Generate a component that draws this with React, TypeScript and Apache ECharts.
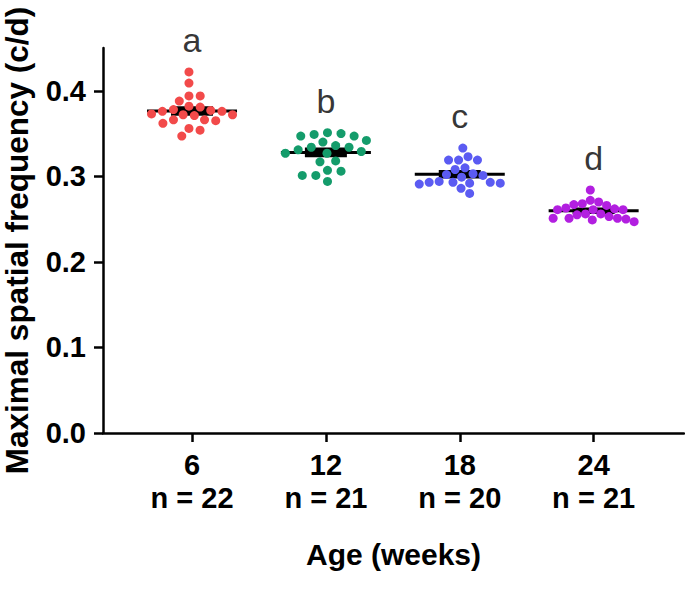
import React, { useEffect, useRef } from "react";
import * as echarts from "echarts";

const AGES = ["6", "12", "18", "24"];
const LETTERS = ["a", "b", "c", "d"];
const COLORS = ["#F24A4A", "#149C6B", "#5B5BF2", "#B21FE0"];
const Y_TICKS = [0, 0.1, 0.2, 0.3, 0.4];

const W6 = [0.422, 0.409, 0.394, 0.394, 0.388, 0.382, 0.376, 0.371, 0.376, 0.372, 0.378,
  0.381, 0.377, 0.373, 0.365, 0.366, 0.372, 0.366, 0.356, 0.362, 0.354, 0.347];
const W12 = [0.349, 0.347, 0.351, 0.35, 0.347, 0.334, 0.336, 0.34, 0.342, 0.334, 0.329,
  0.327, 0.331, 0.327, 0.317, 0.318, 0.306, 0.307, 0.301, 0.301, 0.294];
const W18 = [0.333, 0.319, 0.323, 0.319, 0.319, 0.31, 0.308, 0.301, 0.299, 0.302, 0.303,
  0.293, 0.294, 0.291, 0.293, 0.292, 0.292, 0.293, 0.286, 0.28];
const W24 = [0.284, 0.272, 0.266, 0.267, 0.268, 0.27, 0.261, 0.262, 0.263, 0.261, 0.261,
  0.256, 0.255, 0.256, 0.251, 0.253, 0.251, 0.251, 0.25, 0.247, 0.249];

const GROUPS = [W6, W12, W18, W24];
const FONT = "'Liberation Sans', Arial, Helvetica, sans-serif";

function swarm(ys: number[], D: number): number[] {
  const idx = ys.map((_, i) => i).sort((a, b) => ys[a] - ys[b]);
  const xs = new Array(ys.length).fill(0);
  const placed: number[] = [];
  let flip = 1;
  for (const i of idx) {
    const blocks: number[][] = [];
    for (const j of placed) {
      const dy = ys[i] - ys[j];
      if (Math.abs(dy) < D) {
        const dx = Math.sqrt(D * D - dy * dy);
        blocks.push([xs[j] - dx, xs[j] + dx]);
      }
    }
    const cands = [0];
    blocks.forEach((b) => cands.push(b[0], b[1]));
    const ok = cands.filter((c) => blocks.every((b) => c <= b[0] + 1e-6 || c >= b[1] - 1e-6));
    ok.sort((a, b) => Math.abs(a) - Math.abs(b) || flip * (b - a));
    xs[i] = ok[0];
    if (ok.length > 1 && Math.abs(Math.abs(ok[0]) - Math.abs(ok[1])) < 1e-6) flip = -flip;
    placed.push(i);
  }
  // spread every group to the same half-width, as the plotting program does
  const half = 40.5;
  const lo = Math.min(...xs);
  const hi = Math.max(...xs);
  const mid = (lo + hi) / 2;
  const span = (hi - lo) / 2 || 1;
  return xs.map((x) => ((x - mid) / span) * half);
}

function stats(vals: number[]) {
  const n = vals.length;
  const m = vals.reduce((a, b) => a + b, 0) / n;
  const sd = Math.sqrt(vals.reduce((a, b) => a + (b - m) * (b - m), 0) / (n - 1));
  return [m, sd / Math.sqrt(n)];
}

export default function App() {
  const ref = useRef<HTMLDivElement>(null);
  useEffect(() => {
    const chart = echarts.init(ref.current!, null, { renderer: "svg" });
    const meanData = GROUPS.map((g, i) => {
      const [m, s] = stats(g);
      return [i + 1, m, s];
    });
    const letterData = GROUPS.map((g, i) => [i + 1, Math.max(...g)]);
    const buildOption = (scatterData: number[][][]) => ({
      animation: false,
      grid: {
        left: 103,
        right: 1,
        top: 48,
        bottom: 158,
        containLabel: false,
        outerBoundsMode: "none",
      },
      xAxis: {
        type: "value",
        min: 0.335,
        max: 4.675,
        splitLine: { show: false },
        axisLine: { lineStyle: { color: "#000", width: 2.5 } },
        axisTick: { show: true, length: 9, customValues: [1, 2, 3, 4], lineStyle: { color: "#000", width: 2.5 } },
        axisLabel: {
          customValues: [1, 2, 3, 4],
          margin: 15,
          color: "#000",
          fontFamily: FONT,
          fontWeight: "bold",
          fontSize: 29,
          lineHeight: 33,
          formatter: (v: number) => {
            const i = Math.round(v) - 1;
            return `${AGES[i]}\nn = ${GROUPS[i].length}`;
          },
        },
        name: "Age (weeks)",
        nameLocation: "middle",
        nameGap: 106,
        nameTextStyle: { color: "#000", fontFamily: FONT, fontWeight: "bold", fontSize: 30 },
      },
      yAxis: {
        type: "value",
        min: 0,
        max: 0.45,
        splitLine: { show: false },
        axisLine: { show: true, lineStyle: { color: "#000", width: 2.5 } },
        axisTick: { show: true, length: 9, customValues: Y_TICKS, lineStyle: { color: "#000", width: 2.5 } },
        axisLabel: {
          customValues: Y_TICKS,
          margin: 17,
          color: "#000",
          fontFamily: FONT,
          fontWeight: "bold",
          fontSize: 29,
          formatter: (v: number) => v.toFixed(1),
        },
        name: "Maximal spatial frequency (c/d)",
        nameLocation: "middle",
        nameGap: 70,
        nameTextStyle: { color: "#000", fontFamily: FONT, fontWeight: "bold", fontSize: 31.5 },
      },
      series: [
        {
          type: "custom",
          z: 2,
          data: meanData,
          encode: { x: 0, y: 1 },
          renderItem: (_p: any, api: any) => {
            const x = api.value(0);
            const m = api.value(1);
            const s = api.value(2);
            const c = api.coord([x, m]);
            const t = api.coord([x, m + s]);
            const b = api.coord([x, m - s]);
            return {
              type: "group",
              children: [
                {
                  type: "line",
                  shape: { x1: c[0] - 45, y1: c[1], x2: c[0] + 45, y2: c[1] },
                  style: { stroke: "#000", lineWidth: 3 },
                },
                {
                  type: "rect",
                  shape: { x: c[0] - 21, y: t[1] - 1.5, width: 42, height: b[1] - t[1] + 3 },
                  style: { fill: "#000" },
                },
              ],
            };
          },
        },
        ...scatterData.map((d, i) => ({
          type: "scatter",
          z: 3,
          data: d,
          symbol: "circle",
          symbolSize: 9,
          itemStyle: { color: COLORS[i], opacity: 1 },
        })),
        {
          type: "scatter",
          z: 4,
          data: letterData,
          symbolSize: 0,
          silent: true,
          label: {
            show: true,
            position: "top",
            distance: 15,
            color: "#000",
            fontFamily: FONT,
            fontSize: 34,
            formatter: (p: any) => LETTERS[p.dataIndex],
          },
        },
      ],
    });
    chart.setOption(buildOption(GROUPS.map(() => [])));
    const scatterData = GROUPS.map((vals, gi) => {
      const cx = gi + 1;
      const pys = vals.map((v) => (chart.convertToPixel({ gridIndex: 0 }, [cx, v]) as number[])[1]);
      const offs = swarm(pys, 10);
      const px0 = (chart.convertToPixel({ gridIndex: 0 }, [cx, 0]) as number[])[0];
      return vals.map((v, i) => [
        (chart.convertFromPixel({ gridIndex: 0 }, [px0 + offs[i], pys[i]]) as number[])[0],
        v,
      ]);
    });
    chart.setOption(buildOption(scatterData), true);
    return () => chart.dispose();
  }, []);
  return (
    <div
      ref={ref}
      style={{ position: "absolute", left: 0, top: 0, width: 685, height: 591, background: "#fff" }}
    />
  );
}
